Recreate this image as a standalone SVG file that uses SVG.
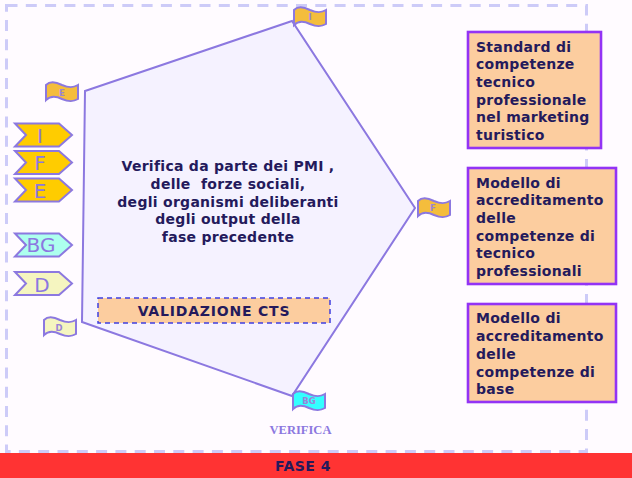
<svg xmlns="http://www.w3.org/2000/svg" width="632" height="478" viewBox="0 0 632 478">
<style>
text{font-family:"DejaVu Sans","Liberation Sans",sans-serif}
.t{font-weight:700;font-size:14px;fill:#241a5c;letter-spacing:.28px}
.m{text-anchor:middle}
.box{fill:#fccd9f;stroke:#9333f5;stroke-width:2.6}
.tag{stroke:#8c78e0;stroke-width:2}
.tl{font-size:20px;fill:#8c78e0;text-anchor:middle}
.flag{stroke:#8c78e0;stroke-width:2;fill:#f4bd3c}
.fl{font-size:8.500px;font-weight:700;fill:#9a84d8;text-anchor:middle}
.v{font-family:"Liberation Serif",serif;font-weight:700;font-size:12.500px;fill:#8c78e0;text-anchor:middle}
</style>
<defs>
<path id="fl" d="M0 2C4 -2 10 -1 16 2C23 5 27 5 32 2V16C27 19 23 19 16 16C10 13 4 13 0 17Z"/>
<path id="ch" d="M0 0H44L57 11.500L44 23H0L11 11.500Z"/>
</defs>
<rect width="632" height="478" fill="#fffbff"/>
<rect id="frame" x="6.500" y="5.500" width="580" height="446" fill="none" stroke="#cdcbf8" stroke-width="3" stroke-dasharray="11 8.300"/>
<g id="pentagon"><path d="M85 91L292 21L415 208L292 396L82 322Z" fill="#f5f2ff" stroke="#8c78e0" stroke-width="2"/>
<text class="t m" x="228" y="171">Verifica da parte dei PMI ,</text>
<text class="t m" x="228" y="189" xml:space="preserve">delle  forze sociali,</text>
<text class="t m" x="228" y="207">degli organismi deliberanti</text>
<text class="t m" x="228" y="224">degli output della</text>
<text class="t m" x="228" y="242">fase precedente</text></g>
<g id="validazione"><rect x="98" y="298" width="232" height="25" fill="#fccd9f" stroke="#3f3fe0" stroke-width="1.500" stroke-dasharray="5 4"/>
<text class="t m" x="214" y="316" style="letter-spacing:.8px">VALIDAZIONE CTS</text></g>
<g id="tag-i"><use href="#ch" x="15" y="123.500" class="tag" fill="#ffcc00"/><text class="tl" x="40" y="143">I</text></g>
<g id="tag-f"><use href="#ch" x="15" y="151" class="tag" fill="#ffcc00"/><text class="tl" x="40" y="170">F</text></g>
<g id="tag-e"><use href="#ch" x="15" y="178.500" class="tag" fill="#ffcc00"/><text class="tl" x="40" y="198">E</text></g>
<g id="tag-bg"><use href="#ch" x="15" y="233.500" class="tag" fill="#adffee"/><text class="tl" x="41" y="252">BG</text></g>
<g id="tag-d"><use href="#ch" x="15" y="272" class="tag" fill="#f5f5c0"/><text class="tl" x="42" y="292">D</text></g>
<g id="flag-e"><use href="#fl" x="46" y="83" class="flag"/><text class="fl" x="62" y="96">E</text></g>
<g id="flag-i"><use href="#fl" x="294" y="8" class="flag"/><text class="fl" x="310" y="20">I</text></g>
<g id="flag-f"><use href="#fl" x="418" y="199" class="flag"/><text class="fl" x="433" y="211">F</text></g>
<g id="flag-d"><use href="#fl" x="44" y="318" class="flag" style="fill:#f5f5c0"/><text class="fl" x="59" y="331">D</text></g>
<g id="flag-bg"><use href="#fl" x="293" y="392" class="flag" style="fill:#33ffff"/><text class="fl" x="309" y="404">BG</text></g>
<g id="box1"><rect class="box" x="468" y="32" width="133" height="116"/>
<text class="t" x="476" y="52">Standard di</text><text class="t" x="476" y="69">competenze</text><text class="t" x="476" y="87">tecnico</text><text class="t" x="476" y="105">professionale</text><text class="t" x="476" y="122">nel marketing</text><text class="t" x="476" y="140">turistico</text></g>
<g id="box2"><rect class="box" x="468" y="168" width="148" height="116"/>
<text class="t" x="476" y="188">Modello di</text><text class="t" x="476" y="205">accreditamento</text><text class="t" x="476" y="223">delle</text><text class="t" x="476" y="241">competenze di</text><text class="t" x="476" y="258">tecnico</text><text class="t" x="476" y="276">professionali</text></g>
<g id="box3"><rect class="box" x="468" y="304" width="148" height="98"/>
<text class="t" x="476" y="323">Modello di</text><text class="t" x="476" y="341">accreditamento</text><text class="t" x="476" y="359">delle</text><text class="t" x="476" y="377">competenze di</text><text class="t" x="476" y="394">base</text></g>
<text class="v" x="300.500" y="434">VERIFICA</text>
<g id="bar"><rect x="0" y="453" width="632" height="25" fill="#ff3333"/><text class="t m" x="303" y="471" style="letter-spacing:.5px">FASE 4</text></g>
</svg>
